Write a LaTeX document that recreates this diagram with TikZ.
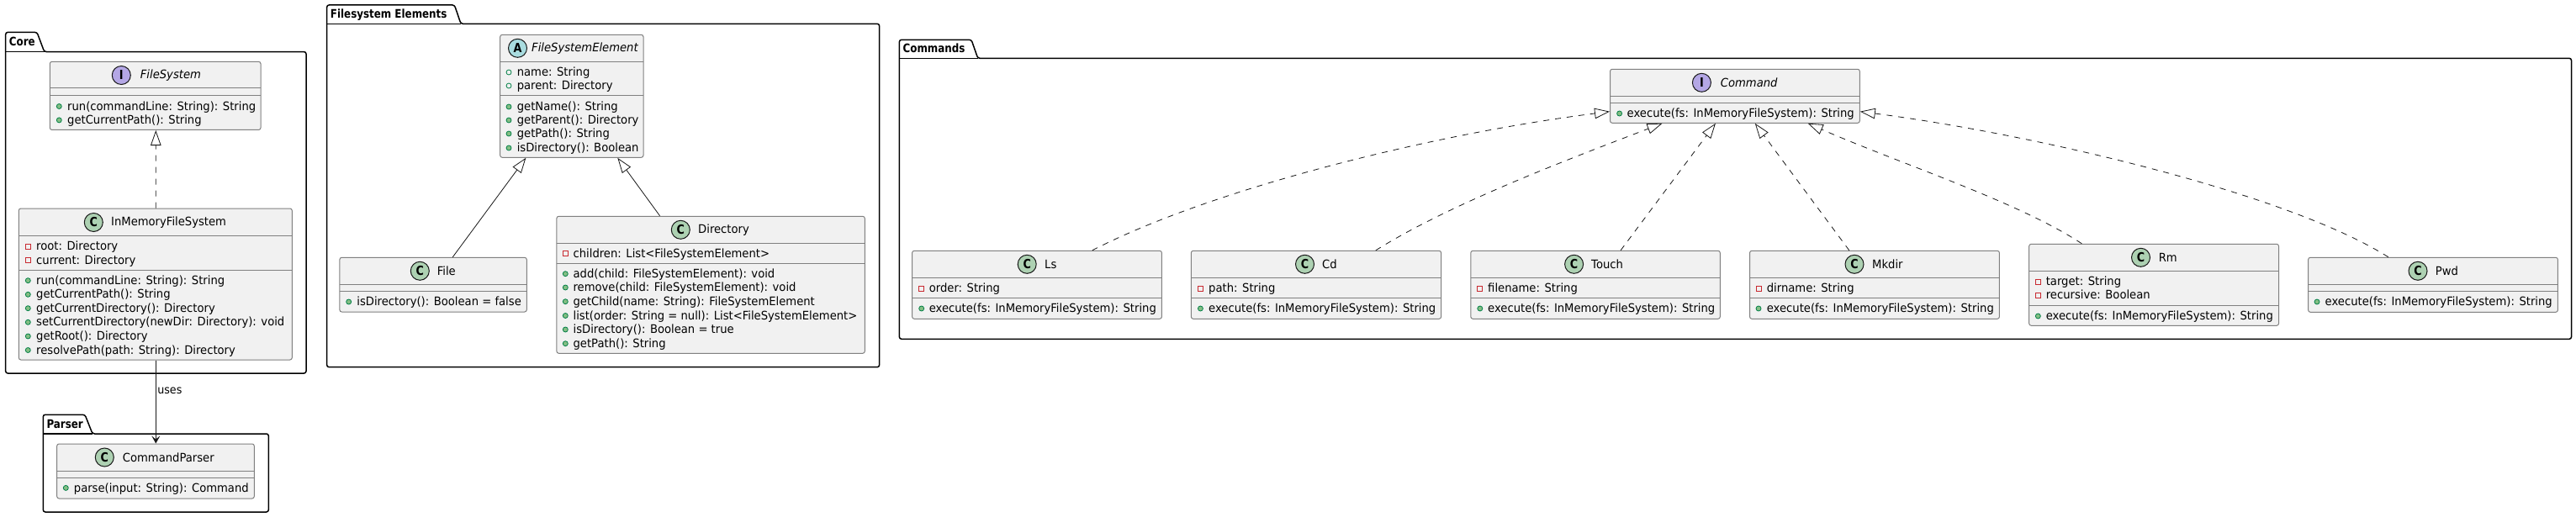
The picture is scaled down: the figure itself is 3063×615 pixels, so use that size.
\documentclass[tikz,border=0pt]{standalone}
\usepackage{fontspec}
\setmainfont[FakeStretch=0.94,BoldFeatures={FakeStretch=0.85}]{DejaVu Sans}
\usetikzlibrary{arrows.meta}
\definecolor{boxfill}{HTML}{F1F1F1}
\definecolor{boxline}{HTML}{808080}
\definecolor{ink}{HTML}{181818}
\definecolor{spotC}{HTML}{ADD1B2}
\definecolor{spotI}{HTML}{B4A7E5}
\definecolor{spotA}{HTML}{A9DCDF}
\definecolor{pubfill}{HTML}{84BE84}
\definecolor{publine}{HTML}{038048}
\definecolor{privline}{HTML}{C82930}
\newcount\itemc
\newcommand{\nextitem}{\global\advance\itemc by 1 }
\tikzset{
  x=1pt,y=-1pt,
  pkg/.style={draw=black,line width=1.5pt,fill=white,rounded corners=2.5pt},
  pkgtitle/.style={anchor=base west,inner sep=0pt,font=\fontsize{14}{16}\selectfont\bfseries,text=black},
  umlbox/.style={draw=boxline,line width=1pt,fill=boxfill,rounded corners=2.5pt,inner sep=0pt},
  sepline/.style={draw=boxline,line width=1pt},
  spot/.style={circle,draw=ink,line width=1pt,minimum size=22pt,inner sep=0pt,font=\fontsize{15}{15}\selectfont\bfseries},
  cname/.style={anchor=west,inner sep=0pt,font=\fontsize{14}{16}\selectfont,text=black},
  member/.style={anchor=base west,inner sep=0pt,font=\fontsize{14}{16}\selectfont,text=black},
  pubm/.style={circle,draw=publine,fill=pubfill,line width=.8pt,minimum size=6pt,inner sep=0pt},
  pubf/.style={circle,draw=publine,fill=boxfill,line width=.8pt,minimum size=6pt,inner sep=0pt},
  privf/.style={rectangle,draw=privline,fill=boxfill,line width=.8pt,minimum size=6pt,inner sep=0pt},
  realize/.style={draw=ink,line width=.8pt,dash pattern=on 7pt off 7pt,-{Triangle[open,length=18pt,width=12.5pt,fill=white]}},
  extend/.style={draw=ink,line width=.8pt,-{Triangle[open,length=18pt,width=12.5pt,fill=white]}},
  uses/.style={draw=ink,line width=1pt,-{Stealth[length=9pt,width=10pt,inset=4pt]}},
  edgelabel/.style={inner sep=0pt,font=\fontsize{13.5}{15}\selectfont,text=black}
}
% package: x1 tabtop bodytop x2 bottom tabrightTop tabrightBottom title
\newcommand{\pack}[8]{%
  \path[pkg] (#1,#3) -- (#1,#2) -- (#6,#2) -- (#7,#3) -- (#4,#3) -- (#4,#5) -- (#1,#5) -- cycle;
  \draw[line width=1.5pt,black] (#1,#3) -- (#7,#3);
  \nextitem\node[pkgtitle] (title\the\itemc) at (#1+4,#3-7) {#8};
}
% class box: name x1 y1 x2 y2 line1 line2
\newcommand{\umlclass}[7]{%
  \node[umlbox,minimum width=#4pt-#2pt,minimum height=#5pt-#3pt] (#1) at ({(#2+#4)/2},{(#3+#5)/2}) {};
  \draw[sepline] (#2,#6) -- (#4,#6) (#2,#7) -- (#4,#7);
}
% header: spotcolour letter cx namex cy name
\newcommand{\head}[6]{%
  \nextitem\node[spot,fill=#1] (spot\the\itemc) at (#3,#5) {#2};
  \nextitem\node[cname] (name\the\itemc) at (#4,#5) {#6};
}
% member: style markx textx centery text
\newcommand{\mem}[5]{%
  \nextitem\node[#1] (mark\the\itemc) at (#2,#4) {};
  \nextitem\node[member] (text\the\itemc) at (#3,#4+4.6) {#5};
}
\newcommand{\exec}{execute(fs: InMemoryFileSystem): String}
\begin{document}
\begin{tikzpicture}
\useasboundingbox (0,0) rectangle (3063,615);
\fill[white] (0,0) rectangle (3063,615);

% Packages
\pack{6.7}{38.4}{61.6}{364}{444}{44}{52.7}{Core}
\pack{51.3}{493.3}{516}{319.3}{609}{101}{110}{Parser}
\pack{388.7}{6}{28.3}{1045.6}{436.7}{540.4}{548}{Filesystem Elements}
\pack{1069.4}{47.3}{69.3}{3057.5}{403.3}{1155}{1162.7}{Commands}

% Core
\umlclass{filesystem}{59.3}{73.3}{310}{154.5}{105}{113.3}
\head{spotI}{I}{144.3}{166.7}{89.5}{\itshape FileSystem}
\mem{pubm}{70.3}{80}{126.5}{run(commandLine: String): String}
\mem{pubm}{70.3}{80}{142.9}{getCurrentPath(): String}

\umlclass{inmemory}{22.3}{248}{347.3}{428}{280.4}{321}
\head{spotC}{C}{111.3}{132}{264.5}{InMemoryFileSystem}
\mem{privf}{33.3}{43}{293}{root: Directory}
\mem{privf}{33.3}{43}{309.6}{current: Directory}
\mem{pubm}{33.3}{43}{333.7}{run(commandLine: String): String}
\mem{pubm}{33.3}{43}{350.3}{getCurrentPath(): String}
\mem{pubm}{33.3}{43}{366.7}{getCurrentDirectory(): Directory}
\mem{pubm}{33.3}{43}{383.3}{setCurrentDirectory(newDir: Directory): void}
\mem{pubm}{33.3}{43}{400}{getRoot(): Directory}
\mem{pubm}{33.3}{43}{416.5}{resolvePath(path: String): Directory}

% Parser
\umlclass{parser}{67.7}{528}{302.3}{593}{560}{568}
\head{spotC}{C}{124.3}{145.7}{544}{CommandParser}
\mem{pubm}{78.3}{87.7}{580.4}{parse(input: String): Command}

% Filesystem elements
\umlclass{element}{594.7}{41.3}{765}{187.3}{73.3}{113.3}
\head{spotA}{A}{615.5}{632}{57.3}{\itshape FileSystemElement}
\mem{pubf}{605}{614.6}{86}{name: String}
\mem{pubf}{605}{614.6}{102}{parent: Directory}
\mem{pubm}{605}{614.6}{127}{getName(): String}
\mem{pubm}{605}{614.6}{143}{getParent(): Directory}
\mem{pubm}{605}{614.6}{159}{getPath(): String}
\mem{pubm}{605}{614.6}{176}{isDirectory(): Boolean}

\umlclass{file}{403.9}{306.3}{626.3}{371}{338.3}{346.3}
\head{spotC}{C}{499.3}{519.6}{322.3}{File}
\mem{pubm}{414.7}{424.2}{359}{isDirectory(): Boolean = false}

\umlclass{directory}{661.9}{257.3}{1028.3}{420.3}{289.3}{313.3}
\head{spotC}{C}{809.3}{830}{273.3}{Directory}
\mem{privf}{672.3}{681.4}{301.7}{children: List<FileSystemElement>}
\mem{pubm}{672.3}{681.4}{325.7}{add(child: FileSystemElement): void}
\mem{pubm}{672.3}{681.4}{342}{remove(child: FileSystemElement): void}
\mem{pubm}{672.3}{681.4}{358.7}{getChild(name: String): FileSystemElement}
\mem{pubm}{672.3}{681.4}{375.5}{list(order: String = null): List<FileSystemElement>}
\mem{pubm}{672.3}{681.4}{392}{isDirectory(): Boolean = true}
\mem{pubm}{672.3}{681.4}{408.7}{getPath(): String}

% Commands
\umlclass{command}{1914.5}{82.3}{2211.3}{146.3}{114.3}{122.3}
\head{spotI}{I}{2023.4}{2045.7}{98.3}{\itshape Command}
\mem{pubm}{1925.6}{1934.5}{135}{\exec}

\umlclass{ls}{1084.6}{298.3}{1381.4}{379.3}{330.3}{354.3}
\head{spotC}{C}{1221.2}{1242}{314.3}{Ls}
\mem{privf}{1095.7}{1104.6}{343}{order: String}
\mem{pubm}{1095.7}{1104.6}{367}{\exec}

\umlclass{cd}{1416.3}{298.3}{1713.6}{379.3}{330.3}{354.3}
\head{spotC}{C}{1551.5}{1572}{314.3}{Cd}
\mem{privf}{1427.4}{1437}{343}{path: String}
\mem{pubm}{1427.4}{1437}{367}{\exec}

\umlclass{touch}{1748.8}{298.3}{2045.3}{379.3}{330.3}{354.3}
\head{spotC}{C}{1871.6}{1892}{314.3}{Touch}
\mem{privf}{1759.8}{1769}{343}{filename: String}
\mem{pubm}{1759.8}{1769}{367}{\exec}

\umlclass{mkdir}{2080.5}{298.3}{2377.4}{379.3}{330.3}{354.3}
\head{spotC}{C}{2205}{2226}{314.3}{Mkdir}
\mem{privf}{2091}{2100.6}{343}{dirname: String}
\mem{pubm}{2091}{2100.6}{367}{\exec}

\umlclass{rm}{2412.7}{290.3}{2709.5}{387.3}{322.3}{363.3}
\head{spotC}{C}{2545.5}{2566.6}{306.3}{Rm}
\mem{privf}{2423.3}{2432.6}{335}{target: String}
\mem{privf}{2423.3}{2432.6}{351}{recursive: Boolean}
\mem{pubm}{2423.3}{2432.6}{376}{\exec}

\umlclass{pwd}{2744.6}{306.3}{3041.4}{371.3}{338.3}{346.3}
\head{spotC}{C}{2875}{2895.6}{322.3}{Pwd}
\mem{pubm}{2755}{2764.5}{359}{\exec}

% Connectors
\draw[realize] ([xshift=.5pt]inmemory.north) -- ([xshift=.65pt]filesystem.south);
\draw[uses] ([xshift=.5pt]inmemory.south) -- node[edgelabel,anchor=west,pos=.37,xshift=1.5pt] (useslabel) {uses} ([xshift=.3pt]parser.north);
\draw[extend] ([xshift=23.2pt]file.north) -- ([xshift=-54.5pt]element.south);
\draw[extend] ([xshift=-60.5pt]directory.north) -- ([xshift=54.5pt]element.south);

\draw[realize] ([xshift=65.8pt]ls.north) .. controls (1440,225) and (1700,160) .. ([yshift=-18.4pt]command.west);
\draw[realize] ([xshift=70.9pt]cd.north) .. controls (1720,245) and (1850,195) .. ([xshift=-86.4pt]command.south);
\draw[realize] ([xshift=30pt]touch.north) -- ([xshift=-23pt]command.south);
\draw[realize] ([xshift=-30.2pt]mkdir.north) -- ([xshift=23.9pt]command.south);
\draw[realize] ([xshift=-85.8pt]rm.north) .. controls (2400,240) and (2260,195) .. ([xshift=86.8pt]command.south);
\draw[realize] ([xshift=-53.2pt]pwd.north) .. controls (2720,230) and (2420,160) .. ([yshift=-18.4pt]command.east);
\end{tikzpicture}
\end{document}
